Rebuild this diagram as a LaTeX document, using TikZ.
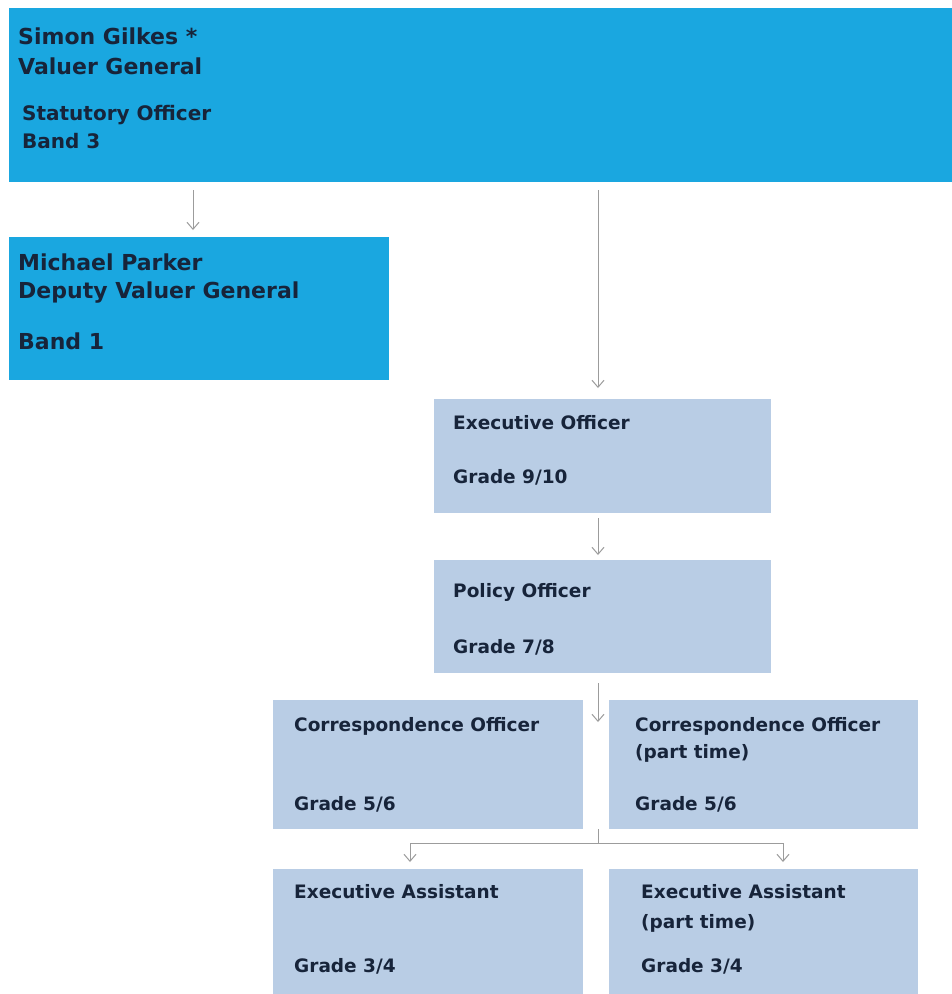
\documentclass[tikz,border=0pt]{standalone}
\usepackage{fontspec}
\setmainfont{DejaVu Sans}
\usetikzlibrary{arrows.meta}
\definecolor{vgblue}{HTML}{1AA7E0}
\definecolor{paleblue}{HTML}{B9CDE5}
\definecolor{txtc}{HTML}{17243A}
\definecolor{linec}{HTML}{9C9C9C}
\begin{document}
\begin{tikzpicture}[x=1pt,y=-1pt,
  darkbox/.style={fill=vgblue, draw=none, inner sep=0pt, anchor=north west},
  palebox/.style={fill=paleblue, draw=none, inner sep=0pt, anchor=north west},
  bigtxt/.style={anchor=base west, inner sep=0pt, text=txtc, font=\fontsize{22}{26}\selectfont\bfseries},
  midtxt/.style={anchor=base west, inner sep=0pt, text=txtc, font=\fontsize{20}{24}\selectfont\bfseries},
  smalltxt/.style={anchor=base west, inner sep=0pt, text=txtc, font=\fontsize{18.5}{22}\selectfont\bfseries},
  conn/.style={draw=linec, line width=1pt, -{Straight Barb[length=7pt,width=12pt]}},
  plain/.style={draw=linec, line width=1pt}]
\useasboundingbox (0,0) rectangle (952,994);
\fill[white] (0,0) rectangle (952,994);
% boxes
\node[darkbox, minimum width=943pt, minimum height=174pt] (vg) at (9,8) {};
\node[darkbox, minimum width=380pt, minimum height=143pt] (mp) at (9,237) {};
\node[palebox, minimum width=337pt, minimum height=114pt] (eo) at (434,399) {};
\node[palebox, minimum width=337pt, minimum height=113pt] (po) at (434,560) {};
\node[palebox, minimum width=310pt, minimum height=129pt] (co1) at (273,700) {};
\node[palebox, minimum width=309pt, minimum height=129pt] (co2) at (609,700) {};
\node[palebox, minimum width=310pt, minimum height=125pt] (ea1) at (273,869) {};
\node[palebox, minimum width=309pt, minimum height=125pt] (ea2) at (609,869) {};
% texts
\node[bigtxt] (vg1) at (18,44) {Simon Gilkes *};
\node[bigtxt] (vg2) at (18,74) {Valuer General};
\node[midtxt] (vg3) at (22,120) {Statutory Officer};
\node[midtxt] (vg4) at (22,148) {Band 3};
\node[bigtxt] (mp1) at (18,270) {Michael Parker};
\node[bigtxt] (mp2) at (18,298) {Deputy Valuer General};
\node[bigtxt] (mp3) at (18,349) {Band 1};
\node[smalltxt] (eo1) at (453,429) {Executive Officer};
\node[smalltxt] (eo2) at (453,483) {Grade 9/10};
\node[smalltxt] (po1) at (453,597) {Policy Officer};
\node[smalltxt] (po2) at (453,653) {Grade 7/8};
\node[smalltxt] (co11) at (294,731) {Correspondence Officer};
\node[smalltxt] (co12) at (294,810) {Grade 5/6};
\node[smalltxt] (co21) at (635,731) {Correspondence Officer};
\node[smalltxt] (co22) at (635,758) {(part time)};
\node[smalltxt] (co23) at (635,810) {Grade 5/6};
\node[smalltxt] (ea11) at (294,898) {Executive Assistant};
\node[smalltxt] (ea12) at (294,972) {Grade 3/4};
\node[smalltxt] (ea21) at (641,898) {Executive Assistant};
\node[smalltxt] (ea22) at (641,928) {(part time)};
\node[smalltxt] (ea23) at (641,972) {Grade 3/4};
% connectors
\coordinate (xa) at (193,0);
\coordinate (xb) at (598,0);
\coordinate (xl) at (410,0);
\coordinate (xr) at (783,0);
\coordinate (tip4) at (598,722);
\coordinate (jn) at (598,843);
\draw[conn, shorten <=8pt, shorten >=7pt] (vg.south -| xa) -- (mp.north -| xa);
\draw[conn, shorten <=8pt, shorten >=11pt] (vg.south -| xb) -- (eo.north -| xb);
\draw[conn, shorten <=5pt, shorten >=5pt] (eo.south -| xb) -- (po.north -| xb);
\draw[conn, shorten <=10pt] (po.south -| xb) -- (tip4);
\draw[plain] (co1.south -| xb) -- (jn);
\draw[conn, shorten >=7pt] (jn) -- (jn -| xl) -- (ea1.north -| xl);
\draw[conn, shorten >=7pt] (jn) -- (jn -| xr) -- (ea2.north -| xr);
\end{tikzpicture}
\end{document}
